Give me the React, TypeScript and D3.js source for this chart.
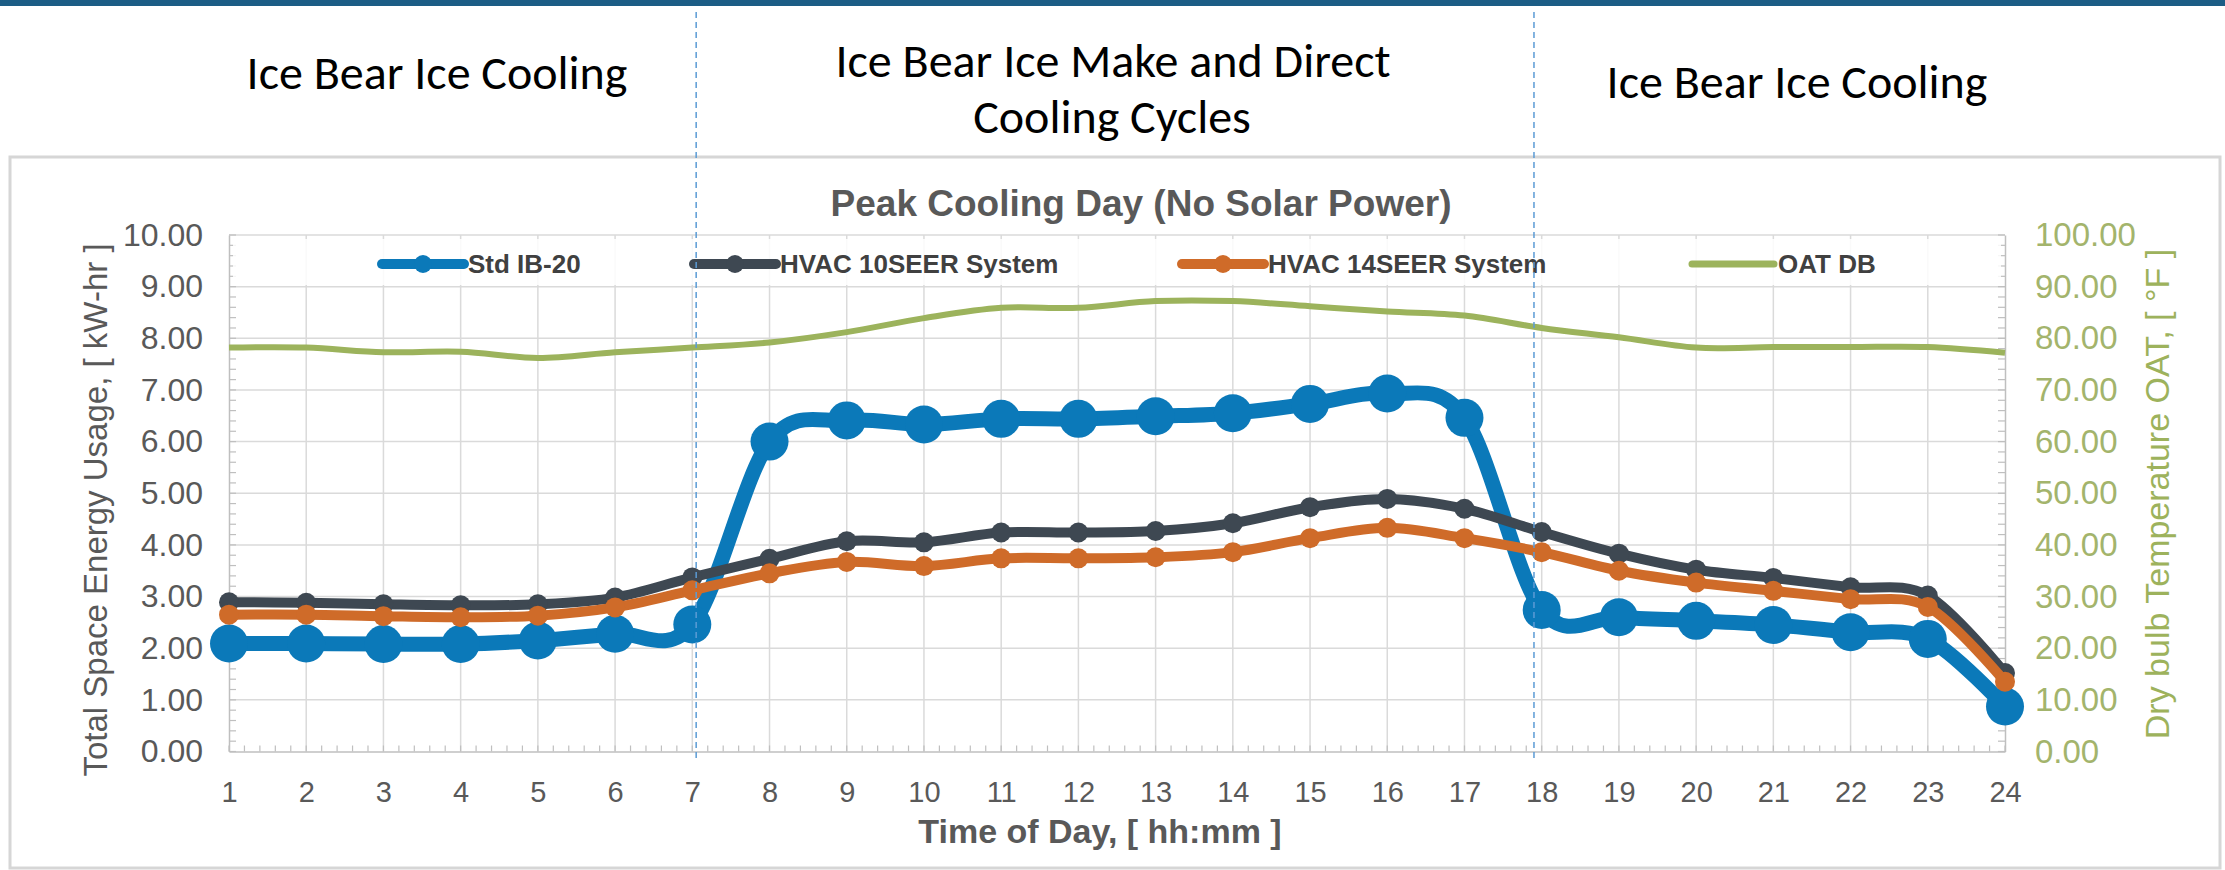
import React, { useRef, useEffect } from "react";
import * as d3 from "d3";

// Hour of day (x categories)
const hours = [1, 2, 3, 4, 5, 6, 7, 8, 9, 10, 11, 12, 13, 14, 15, 16, 17, 18, 19, 20, 21, 22, 23, 24];

// Total space energy usage, kW-hr
const stdIB20 = [2.09, 2.09, 2.08, 2.08, 2.15, 2.28, 2.46, 6.0, 6.41, 6.33, 6.44, 6.44, 6.49, 6.55, 6.73, 6.93, 6.46, 2.74, 2.6, 2.53, 2.45, 2.31, 2.18, 0.87];
const hvac10 = [2.89, 2.88, 2.85, 2.83, 2.85, 2.98, 3.37, 3.73, 4.07, 4.05, 4.24, 4.24, 4.27, 4.42, 4.73, 4.89, 4.7, 4.25, 3.83, 3.52, 3.36, 3.18, 3.02, 1.52];
const hvac14 = [2.65, 2.65, 2.62, 2.6, 2.63, 2.79, 3.12, 3.45, 3.67, 3.59, 3.74, 3.74, 3.76, 3.86, 4.13, 4.33, 4.13, 3.86, 3.5, 3.27, 3.11, 2.95, 2.8, 1.35];

// Outside air dry bulb temperature, °F (right axis)
const oatDB = [78.2, 78.2, 77.3, 77.4, 76.2, 77.3, 78.2, 79.2, 81.2, 83.9, 85.9, 85.9, 87.2, 87.2, 86.2, 85.2, 84.4, 82.0, 80.2, 78.2, 78.3, 78.3, 78.3, 77.2];

const leftTicks = [0, 1, 2, 3, 4, 5, 6, 7, 8, 9, 10];
const rightTicks = [0, 10, 20, 30, 40, 50, 60, 70, 80, 90, 100];

// Phase boundaries (hours) marked by dashed lines on the slide
const phaseBreaks = [7.05, 17.9];

const seriesNames = ["Std IB-20", "HVAC 10SEER System", "HVAC 14SEER System", "OAT DB"];
const colors = ["#0b79b9", "#3e4852", "#cf6b29", "#9cb35c"];

const App = () => {
  const svgRef = useRef<SVGSVGElement>(null);

  useEffect(() => {
    if (!svgRef.current) return;
    const svg = d3.select(svgRef.current);
    svg.selectAll("*").remove();

    const width = 2225;
    const height = 870;
    const left = 229;
    const right = 2005;
    const top = 235;
    const bottom = 751.5;
    const font = "'Liberation Sans', Arial, sans-serif";

    const x = d3.scaleLinear([1, 24], [left, right]);
    const y = d3.scaleLinear([0, 10], [bottom, top]);
    const y2 = d3.scaleLinear([0, 100], [bottom, top]);

    svg
      .attr("width", width)
      .attr("height", height)
      .attr("viewBox", [0, 0, width, height])
      .style("position", "absolute")
      .style("left", 0)
      .style("top", 0)
      .style("font-family", font);

    svg.append("rect").attr("width", width).attr("height", height).attr("fill", "white");
    svg.append("rect").attr("width", width).attr("height", 6).attr("fill", "#1c5d85");

    // slide headings
    const head = svg
      .append("g")
      .attr("font-family", "Carlito, Calibri, Lato, 'Open Sans', sans-serif")
      .attr("font-size", 48)
      .attr("fill", "#000")
      .attr("text-anchor", "middle");
    head.append("text").attr("x", 437).attr("y", 89).text("Ice Bear Ice Cooling");
    head.append("text").attr("x", 1113).attr("y", 77).text("Ice Bear Ice Make and Direct");
    head.append("text").attr("x", 1112).attr("y", 133).text("Cooling Cycles");
    head.append("text").attr("x", 1797).attr("y", 98).text("Ice Bear Ice Cooling");

    // chart frame
    svg
      .append("rect")
      .attr("x", 10)
      .attr("y", 157)
      .attr("width", 2210)
      .attr("height", 711)
      .attr("fill", "white")
      .attr("stroke", "#d6d6d6")
      .attr("stroke-width", 3);

    // gridlines
    const grid = svg.append("g").attr("stroke", "#dadada").attr("stroke-width", 1.5);
    grid
      .selectAll("line.h")
      .data(leftTicks.slice(1))
      .join("line")
      .attr("x1", left)
      .attr("x2", right)
      .attr("y1", (d) => y(d))
      .attr("y2", (d) => y(d));
    grid
      .selectAll("line.v")
      .data(hours.slice(1, -1))
      .join("line")
      .attr("x1", (d) => x(d))
      .attr("x2", (d) => x(d))
      .attr("y1", top)
      .attr("y2", bottom);

    // minor ticks
    const minor = svg.append("g").attr("stroke", "#bfbfbf").attr("stroke-width", 1.2);
    minor
      .selectAll("line.l")
      .data(y.ticks(50))
      .join("line")
      .attr("x1", left)
      .attr("x2", left + 7)
      .attr("y1", (d) => y(d))
      .attr("y2", (d) => y(d));
    minor
      .selectAll("line.r")
      .data(y2.ticks(50))
      .join("line")
      .attr("x1", right - 7)
      .attr("x2", right)
      .attr("y1", (d) => y2(d))
      .attr("y2", (d) => y2(d));
    minor
      .selectAll("line.b")
      .data(d3.range(1, 24.001, 0.2))
      .join("line")
      .attr("x1", (d) => x(d))
      .attr("x2", (d) => x(d))
      .attr("y1", bottom)
      .attr("y2", bottom - 6);

    const styleAxis = (g: any, size: number, fill: string) => {
      g.select(".domain").attr("stroke", "#bfbfbf").attr("stroke-width", 1.5);
      g.selectAll("text").attr("font-size", size).attr("fill", fill).attr("font-family", font);
    };

    svg
      .append("g")
      .attr("transform", `translate(${left},0)`)
      .call(d3.axisLeft(y).tickValues(leftTicks).tickFormat(d3.format(".2f")).tickSize(0).tickSizeOuter(0).tickPadding(26))
      .call((g) => styleAxis(g, 32, "#595959"));

    svg
      .append("g")
      .attr("transform", `translate(${right},0)`)
      .call(d3.axisRight(y2).tickValues(rightTicks).tickFormat(d3.format(".2f")).tickSize(0).tickSizeOuter(0).tickPadding(30))
      .call((g) => styleAxis(g, 33, "#a3b46c"));

    svg
      .append("g")
      .attr("transform", `translate(0,${bottom})`)
      .call(d3.axisBottom(x).tickValues(hours).tickFormat(d3.format("d")).tickSize(0).tickSizeOuter(0).tickPadding(30))
      .call((g) => styleAxis(g, 29, "#595959"));

    // axis titles
    svg
      .append("text")
      .attr("transform", "translate(107,510) rotate(-90)")
      .attr("text-anchor", "middle")
      .attr("font-size", 33)
      .attr("fill", "#595959")
      .text("Total Space Energy Usage, [ kW-hr ]");
    svg
      .append("text")
      .attr("transform", "translate(2169,494) rotate(-90)")
      .attr("text-anchor", "middle")
      .attr("font-size", 34)
      .attr("fill", "#9db25c")
      .text("Dry bulb Temperature OAT, [ °F ]");
    svg
      .append("text")
      .attr("x", 1100)
      .attr("y", 843)
      .attr("text-anchor", "middle")
      .attr("font-size", 34)
      .attr("font-weight", "bold")
      .attr("fill", "#595959")
      .text("Time of Day, [ hh:mm ]");
    svg
      .append("text")
      .attr("x", 1141)
      .attr("y", 216)
      .attr("text-anchor", "middle")
      .attr("font-size", 37)
      .attr("font-weight", "bold")
      .attr("fill", "#595959")
      .text("Peak Cooling Day (No Solar Power)");

    // legend band
    svg
      .append("rect")
      .attr("x", left + 4)
      .attr("y", 239)
      .attr("width", right - left - 8)
      .attr("height", 46)
      .attr("fill", "white")
      .attr("fill-opacity", 0.85);

    const legendX = [380, 692, 1180, 1690];
    const legendY = 264;
    const lg = svg.append("g");
    seriesNames.forEach((name, i) => {
      const item = lg.append("g").attr("transform", `translate(${legendX[i]},${legendY})`);
      item
        .append("line")
        .attr("x1", 2)
        .attr("x2", 84)
        .attr("stroke", colors[i])
        .attr("stroke-width", i === 3 ? 7 : 10)
        .attr("stroke-linecap", "round");
      if (i < 3) item.append("circle").attr("cx", 43).attr("r", 9).attr("fill", colors[i]);
      item
        .append("text")
        .attr("x", 88)
        .attr("dy", "0.35em")
        .attr("font-size", 26)
        .attr("font-weight", "bold")
        .attr("fill", "#404040")
        .text(name);
    });

    // series
    const curve = d3.curveCatmullRom.alpha(0);
    const energy = [stdIB20, hvac10, hvac14];
    const lineW = [15, 10, 10];
    const radius = [19, 10, 10];
    energy.forEach((vals, s) => {
      const line = d3
        .line<number>()
        .x((_, i) => x(hours[i]))
        .y((d) => y(d))
        .curve(curve);
      svg
        .append("path")
        .attr("fill", "none")
        .attr("stroke", colors[s])
        .attr("stroke-width", lineW[s])
        .attr("stroke-linejoin", "round")
        .attr("d", line(vals));
      svg
        .append("g")
        .selectAll("circle")
        .data(vals)
        .join("circle")
        .attr("cx", (_, i) => x(hours[i]))
        .attr("cy", (d) => y(d))
        .attr("r", radius[s])
        .attr("fill", colors[s]);
    });

    const oatLine = d3
      .line<number>()
      .x((_, i) => x(hours[i]))
      .y((d) => y2(d))
      .curve(curve);
    svg
      .append("path")
      .attr("fill", "none")
      .attr("stroke", colors[3])
      .attr("stroke-width", 6)
      .attr("d", oatLine(oatDB));

    // dashed phase separators
    svg
      .append("g")
      .selectAll("line")
      .data(phaseBreaks)
      .join("line")
      .attr("x1", (d) => x(d))
      .attr("x2", (d) => x(d))
      .attr("y1", 12)
      .attr("y2", 758)
      .attr("stroke", "#5b9bd5")
      .attr("stroke-width", 1.5)
      .attr("stroke-dasharray", "6,4");
  }, []);

  return <svg ref={svgRef}></svg>;
};

export default App;
